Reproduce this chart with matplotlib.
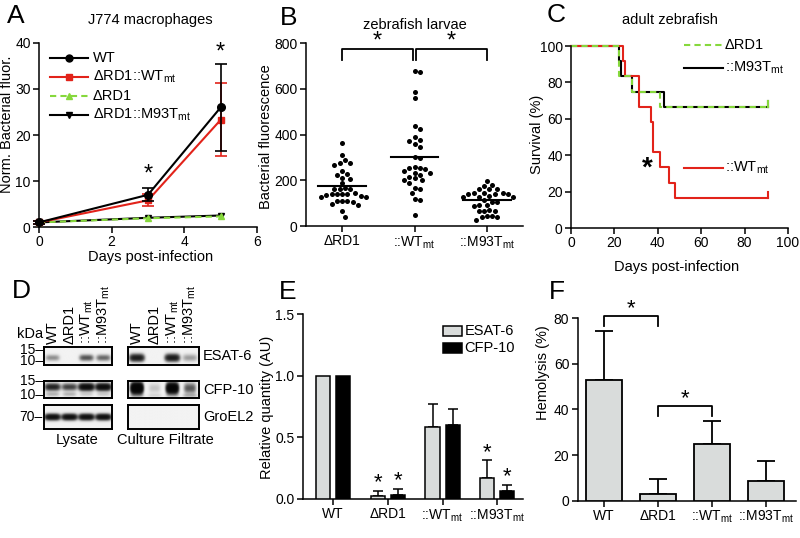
import numpy as np
import matplotlib
matplotlib.use('Agg')
import matplotlib.pyplot as plt
from matplotlib.patches import Rectangle

plt.rcParams['font.family'] = ['Liberation Sans', 'DejaVu Sans']
plt.rcParams['mathtext.fontset'] = 'custom'
plt.rcParams['mathtext.rm'] = 'Liberation Sans'
plt.rcParams['mathtext.it'] = 'Liberation Sans:italic'
plt.rcParams['mathtext.bf'] = 'Liberation Sans:bold'
plt.rcParams['axes.linewidth'] = 1.1
plt.rcParams['xtick.major.width'] = 1.1
plt.rcParams['ytick.major.width'] = 1.1
plt.rcParams['xtick.major.size'] = 4
plt.rcParams['ytick.major.size'] = 4
plt.rcParams['xtick.labelsize'] = 10
plt.rcParams['ytick.labelsize'] = 10
plt.rcParams['axes.labelsize'] = 10.5

MT = r'$_{\rm mt}$'

# ---------------- data ----------------
# A: J774 macrophages
a_days = [0, 3, 5]
a_wt = [1.0, 7.0, 26.0]
a_wt_err = [0.4, 1.4, 9.4]
a_wtmt = [1.0, 5.8, 23.3]
a_wtmt_err = [0.4, 1.3, 7.9]
a_drd1 = [1.0, 1.9, 2.3]
a_m93t = [1.0, 2.0, 2.5]
a_star_days = [3, 5]
a_star_y = [11.3, 38.0]
a_labels = ['WT', 'ΔRD1::WT' + MT, 'ΔRD1', 'ΔRD1::M93T' + MT]

# B: zebrafish larvae
b_groups = ['ΔRD1', '::WT' + MT, '::M93T' + MT]
b_drd1 = [363, 310, 288, 277, 274, 267, 242, 227, 224, 211, 204, 187, 165, 162, 160,
          163, 142, 139, 137, 141, 138, 143, 128, 126, 129, 110, 108, 111, 104, 96, 92, 64, 41]
b_wtmt = [677, 672, 587, 559, 438, 422, 390, 376, 373, 357, 347, 302, 298, 252, 248, 259,
          242, 252, 230, 223, 232, 208, 201, 189, 201, 213, 167, 162, 146, 118, 112, 48]
b_m93t = [197, 181, 175, 162, 160, 163, 143, 141, 145, 142, 144, 140, 127, 129, 126, 128,
          112, 107, 105, 90, 92, 88, 67, 65, 69, 66, 44, 38, 42, 40, 28]
b_means = [176, 300, 112]

# C: adult zebrafish survival
c_drd1_t = [0, 22, 28, 41, 91]
c_drd1_s = [100, 83.3, 75, 66.7, 66.7]
c_m93t_t = [0, 22, 23, 28, 43, 91]
c_m93t_s = [100, 91.7, 83.3, 75, 66.7, 66.7]
c_wtmt_t = [0, 24, 25, 31.5, 37, 38, 41, 45, 48, 91]
c_wtmt_s = [100, 91.7, 83.3, 66.7, 58.3, 41.7, 33.3, 25, 16.7, 16.7]

# D: western blots (band darkness per lane: WT, dRD1, ::WTmt, ::M93Tmt)
d_lanes = ['WT', 'ΔRD1', '::WT' + MT, '::M93T' + MT]
d_esat_lys = [0.25, 0.0, 0.5, 0.4]
d_esat_cf = [0.8, 0.0, 0.8, 0.15]
d_cfp_lys = [0.6, 0.4, 1.0, 1.0]
d_cfp_lys_low = [0.2, 0.2, 0.12, 0.12]
d_cfp_cf = [1.0, 0.03, 0.8, 0.15]
d_cfp_cf_low = [0.15, 0.08, 0.08, 0.2]
d_groel_lys = [0.9, 0.9, 0.9, 0.9]
d_groel_cf = [0.0, 0.0, 0.0, 0.0]

# E: relative quantity
e_groups = ['WT', 'ΔRD1', '::WT' + MT, '::M93T' + MT]
e_esat = [1.0, 0.022, 0.58, 0.17]
e_esat_err = [0.0, 0.046, 0.19, 0.144]
e_cfp = [1.0, 0.035, 0.60, 0.062]
e_cfp_err = [0.0, 0.05, 0.127, 0.054]
e_star_esat = [False, True, False, True]
e_star_cfp = [False, True, False, True]

# F: hemolysis
f_groups = ['WT', 'ΔRD1', '::WT' + MT, '::M93T' + MT]
f_vals = [52.9, 2.9, 24.7, 8.8]
f_err = [21.2, 6.5, 10.4, 8.5]

# ---------------- figure ----------------
W, H = 800, 538
fig = plt.figure(figsize=(8, 5.38), dpi=100)


def add_ax(x0, y0, x1, y1):
    return fig.add_axes([x0 / W, 1 - y1 / H, (x1 - x0) / W, (y1 - y0) / H])


def ftext(x, y, s, **kw):
    return fig.text(x / W, 1 - y / H, s, **kw)


def prism(ax):
    ax.spines['top'].set_visible(False)
    ax.spines['right'].set_visible(False)
    ax.tick_params(direction='out', length=4, pad=2)


RED = '#e2231a'
GREEN = '#86d83c'
GRAY = '#d9dcdb'

# ---- Panel A ----
axA = add_ax(39, 43, 257, 227)
prism(axA)
axA.errorbar(a_days, a_wt, yerr=a_wt_err, color='k', marker='o', ms=5.5, lw=1.5,
             capsize=4, capthick=1.2, elinewidth=1.2, zorder=5, clip_on=False)
axA.errorbar(a_days, a_wtmt, yerr=a_wtmt_err, color=RED, marker='s', ms=5, lw=1.5,
             capsize=4, capthick=1.2, elinewidth=1.2, zorder=4, clip_on=False)
axA.plot(a_days, a_m93t, color='k', marker='v', ms=5, lw=1.5, zorder=3, clip_on=False)
axA.plot(a_days, a_drd1, color=GREEN, marker='^', ms=5, lw=1.5, ls=(0, (3, 2)), zorder=3,
         clip_on=False)
for d, y in zip(a_star_days, a_star_y):
    axA.text(d, y, '*', fontsize=17, ha='center', va='center')
axA.set_xlim(0, 6)
axA.set_ylim(0, 40)
axA.set_xticks([0, 2, 4, 6])
axA.set_yticks([0, 10, 20, 30, 40])
axA.set_xlabel('Days post-infection')
axA.xaxis.label.set_va('center')
axA.xaxis.set_label_coords(0.51, -30 / 184)
axA.set_ylabel('Norm. Bacterial fluor.')
axA.yaxis.label.set_va('center')
axA.yaxis.set_label_coords(-32 / 218, 0.557)
leg_styles = [('k', 'o', '-'), (RED, 's', '-'), (GREEN, '^', (0, (3, 2))), ('k', 'v', '-')]
leg_y = [0.917, 0.817, 0.712, 0.609]
for (col, mk, ls), yy, lab in zip(leg_styles, leg_y, a_labels):
    axA.plot([0.05, 0.225], [yy, yy], color=col, ls=ls, lw=1.5, transform=axA.transAxes,
             clip_on=False)
    axA.plot([0.1375], [yy], color=col, marker=mk, ms=5, transform=axA.transAxes, clip_on=False)
    axA.text(0.248, yy, lab, transform=axA.transAxes, fontsize=10.5, va='center', ha='left')
ftext(150, 20, 'J774 macrophages', fontsize=10.5, ha='center', va='center')
ftext(7, 16, 'A', fontsize=19, ha='left', va='center')


# ---- Panel B ----
def swarm_offsets(vals, ypx, xpx, d):
    vals = np.asarray(vals, float)
    order = np.argsort(-vals)
    px_list, py_list = [], []
    off = np.zeros(len(vals))
    for i in order:
        y = vals[i] * ypx
        c = 0.0
        for k in range(80):
            c = 0.0 if k == 0 else ((k + 1) // 2) * (d * 0.5) * (1 if k % 2 else -1)
            if all((c - qx) ** 2 + (y - qy) ** 2 >= d * d for qx, qy in zip(px_list, py_list)):
                break
        off[i] = c / xpx
        px_list.append(c)
        py_list.append(y)
    return off


axB = add_ax(306, 43, 523, 226)
prism(axB)
ypx_B = 183 / 800
xpx_B = 217 / 3.0
for gi, vals in enumerate([b_drd1, b_wtmt, b_m93t]):
    off = swarm_offsets(vals, ypx_B, xpx_B, 5.3)
    axB.scatter(gi + off, vals, s=13, color='k', zorder=3, clip_on=False, linewidths=0)
    axB.plot([gi - 0.33, gi + 0.33], [b_means[gi]] * 2, color='k', lw=1.5, zorder=4)
axB.set_xlim(-0.5, 2.5)
axB.set_ylim(0, 800)
axB.set_xticks([0, 1, 2])
axB.set_xticklabels(b_groups, fontsize=10)
axB.set_yticks([0, 200, 400, 600, 800])
axB.set_ylabel('Bacterial fluorescence')
axB.yaxis.label.set_va('center')
axB.yaxis.set_label_coords(-40 / 217, 0.486)
for xa, xb in [(0, 0.98), (1.02, 2)]:
    axB.plot([xa, xa, xb, xb], [725, 772, 772, 725], color='k', lw=1.3, clip_on=False)
    axB.text((xa + xb) / 2, 805, '*', fontsize=17, ha='center', va='center')
ftext(415, 25, 'zebrafish larvae', fontsize=10.5, ha='center', va='center')
ftext(280, 18, 'B', fontsize=19, ha='left', va='center')

# ---- Panel C ----
axC = add_ax(571, 46, 788, 228)
prism(axC)
series_C = [(c_m93t_t, c_m93t_s, 'k', '-'), (c_wtmt_t, c_wtmt_s, RED, '-'),
            (c_drd1_t, c_drd1_s, GREEN, (0, (3, 2)))]
for t, s, col, ls in series_C:
    axC.step(t, s, where='post', color=col, ls=ls, lw=1.5, clip_on=False)
    axC.plot([t[-1], t[-1]], [s[-1], s[-1] + 3], color=col, lw=1.5, clip_on=False)
axC.set_xlim(0, 100)
axC.set_ylim(0, 100)
axC.set_xticks([0, 20, 40, 60, 80, 100])
axC.set_yticks([0, 20, 40, 60, 80, 100])
axC.set_xlabel('Days post-infection')
axC.xaxis.label.set_va('center')
axC.xaxis.set_label_coords(0.486, -39 / 182)
axC.set_ylabel('Survival (%)')
axC.yaxis.label.set_va('center')
axC.yaxis.set_label_coords(-34 / 217, 0.516)
axC.text(35.2, 32.8, '*', fontsize=20, fontweight='bold', ha='center', va='center')
legC = [(GREEN, (0, (3, 2)), 100.3, 'ΔRD1'), ('k', '-', 88, '::M93T' + MT),
        (RED, '-', 33, '::WT' + MT)]
for col, ls, yy, lab in legC:
    axC.plot([52, 70], [yy, yy], color=col, ls=ls, lw=1.5, clip_on=False)
    axC.text(71, yy, lab, fontsize=10.5, ha='left', va='center')
ftext(670, 20, 'adult zebrafish', fontsize=10.5, ha='center', va='center')
ftext(547, 15, 'C', fontsize=19, ha='left', va='center')


# ---- Panel D: blots ----
def draw_blot(x0, y0, x1, y1, rows):
    ax = add_ax(x0, y0, x1, y1)
    xs = np.linspace(0, 4, 240)
    ys = np.linspace(0, 1, 80)
    X, Y = np.meshgrid(xs, ys)
    dens = np.zeros_like(X)
    for inten, by, sx, sy, k in rows:
        for li, v in enumerate(inten):
            if v <= 0:
                continue
            dx = (X - (li + 0.5)) / sx
            dy = (Y - by) / sy
            dens += k * v * np.exp(-0.5 * dx ** 4 - 0.5 * dy ** 2)
    img = 0.95 - 0.93 * (1 - np.exp(-dens))
    ax.imshow(img, cmap='gray', vmin=0, vmax=1, extent=[0, 4, 1, 0], aspect='auto',
              interpolation='bilinear')
    ax.set_xticks([])
    ax.set_yticks([])
    for sp in ax.spines.values():
        sp.set_linewidth(1.4)
    return ax


LYS = (44.3, 112.3)
CF = (128.3, 199.0)
ESAT_Y = (347, 365)
CFP_Y = (381, 398)
GRO_Y = (405, 429)
draw_blot(LYS[0], ESAT_Y[0], LYS[1], ESAT_Y[1], [(d_esat_lys, 0.6, 0.33, 0.11, 2.2)])
draw_blot(CF[0], ESAT_Y[0], CF[1], ESAT_Y[1], [(d_esat_cf, 0.6, 0.33, 0.13, 3.0)])
draw_blot(LYS[0], CFP_Y[0], LYS[1], CFP_Y[1],
          [(d_cfp_lys, 0.35, 0.36, 0.13, 3.5), (d_cfp_lys_low, 0.78, 0.33, 0.09, 1.5)])
draw_blot(CF[0], CFP_Y[0], CF[1], CFP_Y[1],
          [(d_cfp_cf, 0.42, 0.27, 0.19, 7.0), (d_cfp_cf_low, 0.85, 0.33, 0.08, 1.5)])
draw_blot(LYS[0], GRO_Y[0], LYS[1], GRO_Y[1], [(d_groel_lys, 0.5, 0.36, 0.08, 3.5)])
draw_blot(CF[0], GRO_Y[0], CF[1], GRO_Y[1], [(d_groel_cf, 0.5, 0.36, 0.08, 3.5)])

for (xa, xb) in [LYS, CF]:
    lw_ = (xb - xa) / 4
    for i, lab in enumerate(d_lanes):
        ftext(xa + lw_ * (i + 0.5), 344, lab, fontsize=10.5, rotation=90, ha='center',
              va='bottom')
for y, lab in [(356, 'ESAT-6'), (389.5, 'CFP-10'), (417, 'GroEL2')]:
    ftext(203, y, lab, fontsize=10.5, ha='left', va='center')
ftext(43, 334, 'kDa', fontsize=10.5, ha='right', va='center')
ftext(43, 355.5, '15–\n10–', fontsize=10, ha='right', va='center', linespacing=0.8)
ftext(43, 388, '15–\n10–', fontsize=10, ha='right', va='center', linespacing=1.05)
ftext(43, 417, '70–', fontsize=10, ha='right', va='center')
ftext(77, 440, 'Lysate', fontsize=10.5, ha='center', va='center')
ftext(165, 440, 'Culture Filtrate', fontsize=10.5, ha='center', va='center')
ftext(12, 291, 'D', fontsize=19, ha='left', va='center')

# ---- Panel E ----
axE = add_ax(302.7, 314, 523, 499)
prism(axE)
xE = np.arange(len(e_groups))
wE, oE = 0.256, 0.183
axE.bar(xE - oE, e_esat, wE, color=GRAY, edgecolor='k', lw=1.1, zorder=3)
axE.bar(xE + oE, e_cfp, wE, color='k', edgecolor='k', lw=1.1, zorder=3)
for xs_, vals, errs, stars in [(xE - oE, e_esat, e_esat_err, e_star_esat),
                               (xE + oE, e_cfp, e_cfp_err, e_star_cfp)]:
    for xx, v, e, st in zip(xs_, vals, errs, stars):
        if e > 0:
            axE.errorbar([xx], [v], yerr=[[0], [e]], fmt='none', ecolor='k', elinewidth=1.1,
                         capsize=3.5, capthick=1.1, zorder=2)
        if st:
            axE.text(xx, v + e + 0.065, '*', fontsize=16, ha='center', va='center')
axE.set_xlim(-0.554, 3.47)
axE.set_ylim(0, 1.5)
axE.set_xticks(xE)
axE.set_xticklabels(e_groups, fontsize=10)
axE.set_yticks([0.0, 0.5, 1.0, 1.5])
axE.set_yticklabels(['0.0', '0.5', '1.0', '1.5'])
axE.set_ylabel('Relative quantity (AU)')
axE.yaxis.label.set_va('center')
axE.yaxis.set_label_coords(-36 / 220.3, 0.495)
for yb, col, lab in [(0.883, GRAY, 'ESAT-6'), (0.789, 'k', 'CFP-10')]:
    axE.add_patch(Rectangle((0.637, yb), 0.086, 0.052, transform=axE.transAxes,
                            facecolor=col, edgecolor='k', lw=1.1, clip_on=False))
    axE.text(0.735, yb + 0.026, lab, transform=axE.transAxes, fontsize=10.5, va='center')
ftext(279, 292, 'E', fontsize=19, ha='left', va='center')

# ---- Panel F ----
axF = add_ax(577.7, 318, 796, 500.7)
prism(axF)
xF = np.arange(len(f_groups))
axF.bar(xF, f_vals, 0.68, color=GRAY, edgecolor='k', lw=1.3, zorder=3)
axF.errorbar(xF, f_vals, yerr=[np.zeros(len(f_err)), f_err], fmt='none', ecolor='k',
             elinewidth=1.3, capsize=6.5, capthick=1.3, zorder=2)
axF.set_xlim(-0.487, 3.556)
axF.set_ylim(0, 80)
axF.set_xticks(xF)
axF.set_xticklabels(f_groups, fontsize=10)
axF.set_yticks([0, 20, 40, 60, 80])
axF.set_ylabel('Hemolysis (%)')
axF.yaxis.label.set_va('center')
axF.yaxis.set_label_coords(-35 / 218.3, 0.70)
for xa, xb, ytop, ylow in [(0, 1, 80.7, 76.3), (1, 2, 41.5, 37.1)]:
    axF.plot([xa, xa, xb, xb], [ylow, ytop, ytop, ylow], color='k', lw=1.3, clip_on=False)
    axF.text((xa + xb) / 2, ytop + 3.3, '*', fontsize=16, ha='center', va='center')
ftext(549, 292, 'F', fontsize=19, ha='left', va='center')

fig.savefig('out.png', dpi=100)
